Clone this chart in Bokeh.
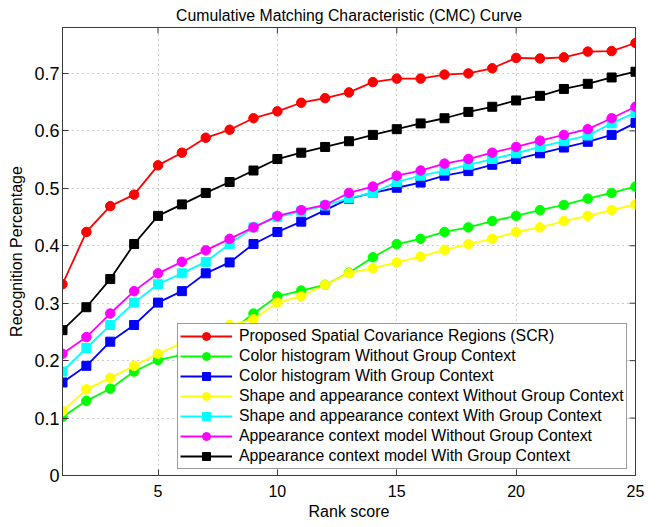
import math
from bokeh.plotting import figure
from bokeh.models import Range1d, FixedTicker
from bokeh.embed import file_html
from bokeh.resources import INLINE

# ---- data ----
rank = list(range(1, 26))
scr = [0.333, 0.424, 0.469, 0.489, 0.540, 0.562, 0.588, 0.602, 0.622, 0.634, 0.649, 0.657, 0.667,
       0.685, 0.691, 0.691, 0.698, 0.700, 0.709, 0.727, 0.726, 0.728, 0.738, 0.739, 0.753]
color_without = [0.102, 0.130, 0.151, 0.181, 0.201, 0.210, 0.220, 0.250, 0.282, 0.312, 0.322, 0.332, 0.353,
                 0.380, 0.403, 0.412, 0.424, 0.432, 0.443, 0.452, 0.462, 0.471, 0.482, 0.492, 0.503]
color_with = [0.162, 0.191, 0.233, 0.262, 0.301, 0.321, 0.352, 0.371, 0.403, 0.424, 0.442, 0.462, 0.482,
              0.492, 0.501, 0.510, 0.522, 0.530, 0.541, 0.551, 0.561, 0.571, 0.581, 0.593, 0.614]
shape_without = [0.112, 0.150, 0.170, 0.191, 0.212, 0.230, 0.245, 0.262, 0.272, 0.301, 0.312, 0.332, 0.352,
                 0.361, 0.371, 0.381, 0.393, 0.403, 0.412, 0.424, 0.432, 0.443, 0.452, 0.462, 0.472]
shape_with = [0.181, 0.222, 0.262, 0.301, 0.333, 0.352, 0.372, 0.403, 0.432, 0.450, 0.460, 0.470, 0.483,
              0.492, 0.511, 0.522, 0.531, 0.541, 0.551, 0.561, 0.572, 0.582, 0.592, 0.613, 0.632]
app_without = [0.212, 0.241, 0.282, 0.321, 0.352, 0.372, 0.392, 0.412, 0.432, 0.452, 0.462, 0.471, 0.492,
               0.503, 0.522, 0.531, 0.543, 0.551, 0.562, 0.572, 0.583, 0.593, 0.603, 0.622, 0.642]
app_with = [0.253, 0.293, 0.342, 0.403, 0.452, 0.472, 0.492, 0.511, 0.531, 0.551, 0.562, 0.572, 0.582,
            0.593, 0.603, 0.613, 0.622, 0.633, 0.642, 0.653, 0.661, 0.673, 0.682, 0.693, 0.703]

series_labels = [
    "Proposed Spatial Covariance Regions (SCR)",
    "Color histogram Without Group Context",
    "Color histogram With Group Context",
    "Shape and appearance context Without Group Context",
    "Shape and appearance context With Group Context",
    "Appearance context model Without Group Context",
    "Appearance context model With Group Context",
]
series_values = [scr, color_without, color_with, shape_without, shape_with, app_without, app_with]
series_colors = ["#ff0000", "#00ff00", "#0000ff", "#ffff00", "#00ffff", "#ff00ff", "#000000"]
series_markers = ["circle", "circle", "square", "circle", "square", "circle", "square"]

x_min, x_max = 1, 25
y_min, y_max = 0, 0.78
x_ticks = [5, 10, 15, 20, 25]
y_ticks = [0, 0.1, 0.2, 0.3, 0.4, 0.5, 0.6, 0.7]
y_tick_labels = ["0", "0.1", "0.2", "0.3", "0.4", "0.5", "0.6", "0.7"]

FONT = "Liberation Sans"
AX = "#3a3a3a"

p = figure(frame_width=573, frame_height=448,
           x_range=Range1d(x_min, x_max), y_range=Range1d(y_min, y_max),
           output_backend="svg", toolbar_location=None,
           title="Cumulative Matching Characteristic (CMC) Curve",
           min_border_left=62, min_border_right=10, min_border_top=27, min_border_bottom=0,
           background_fill_color="white", border_fill_color="white")

p.title.align = "center"
p.title.text_font = FONT
p.title.text_font_size = "15.8px"
p.title.text_font_style = "normal"
p.title.text_color = "black"
p.title.standoff = 8
p.title.offset = 0

p.outline_line_color = AX
p.outline_line_width = 1

p.xaxis.ticker = FixedTicker(ticks=x_ticks)
p.yaxis.ticker = FixedTicker(ticks=y_ticks)
p.yaxis.major_label_overrides = {t: l for t, l in zip(y_ticks, y_tick_labels)}
p.xaxis.axis_label = "Rank score"
p.yaxis.axis_label = "Recognition Percentage"

for ax in p.xaxis + p.yaxis:
    ax.major_tick_in = 6
    ax.major_tick_out = 0
    ax.minor_tick_in = 0
    ax.minor_tick_out = 0
    ax.axis_line_color = AX
    ax.major_tick_line_color = AX
    ax.major_label_text_font = FONT
    ax.major_label_text_color = "black"
    ax.axis_label_text_font = FONT
    ax.axis_label_text_font_size = "16px"
    ax.axis_label_text_font_style = "normal"
    ax.axis_label_text_color = "black"

p.xaxis.major_label_text_font_size = "16px"
p.yaxis.major_label_text_font_size = "18px"
p.xaxis.major_label_standoff = 9
p.xaxis.axis_label_standoff = 3
p.yaxis.major_label_standoff = 3
p.yaxis.axis_label_standoff = 6

p.xgrid.grid_line_color = "#9a9a9a"
p.ygrid.grid_line_color = "#9a9a9a"
p.xgrid.grid_line_dash = "1 4"
p.ygrid.grid_line_dash = "1 4"
p.xgrid.grid_line_width = 1
p.ygrid.grid_line_width = 1

# mirrored inward tick marks on the top and right edges (MATLAB box style)
p.scatter(x_ticks, [y_max] * len(x_ticks), marker="dash", angle=math.pi / 2, size=12,
          line_color=AX, line_width=1)
p.scatter([x_max] * len(y_ticks), y_ticks, marker="dash", size=12,
          line_color=AX, line_width=1)

for lbl, vals, col, mk in zip(series_labels, series_values, series_colors, series_markers):
    p.line(rank, vals, line_color=col, line_width=1.8, legend_label=lbl)
    p.scatter(rank, vals, marker=mk, size=9.5 if mk == "circle" else 9,
              fill_color=col, line_color=col, legend_label=lbl)

lg = p.legend[0]
lg.location = (115, 6)
lg.border_line_color = AX
lg.border_line_width = 1
lg.background_fill_color = "white"
lg.background_fill_alpha = 1
lg.label_text_font = FONT
lg.label_text_font_size = "15.8px"
lg.label_text_color = "black"
lg.glyph_width = 52
lg.glyph_height = 20
lg.label_height = 20
lg.label_standoff = 7
lg.spacing = 0
lg.padding = 2
lg.margin = 0

open("out.html", "w").write(file_html(p, INLINE))
